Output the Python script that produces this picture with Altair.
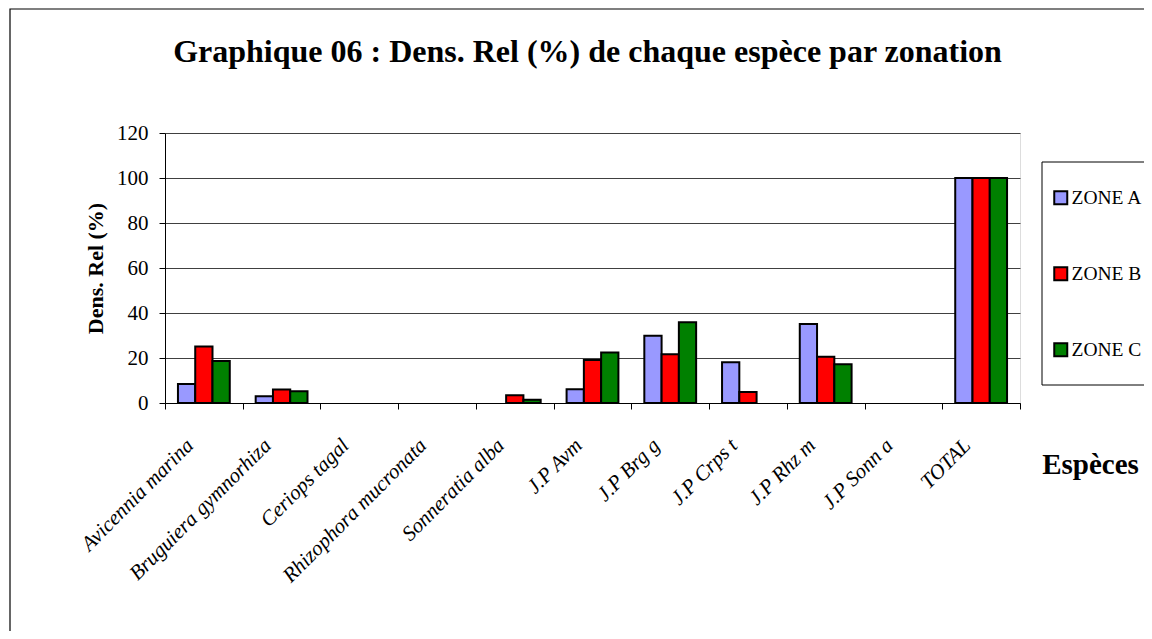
import altair as alt
import pandas as pd

species = ["Avicennia marina", "Bruguiera gymnorhiza", "Ceriops tagal",
           "Rhizophora mucronata", "Sonneratia alba", "J.P Avm", "J.P Brg g",
           "J.P Crps t", "J.P Rhz m", "J.P Sonn a", "TOTAL"]
zones = ["ZONE A", "ZONE B", "ZONE C"]
zone_a = [8.4, 3.0, 0, 0, 0, 6.1, 29.9, 18.1, 35.1, 0, 100]
zone_b = [25.1, 6.0, 0, 0, 3.5, 19.1, 21.7, 4.9, 20.6, 0, 100]
zone_c = [18.7, 5.2, 0, 0, 1.5, 22.4, 35.9, 0, 17.2, 0, 100]
colors = ["#9999FF", "#FF0000", "#008000"]
y_ticks = [0, 20, 40, 60, 80, 100, 120]
title_text = "Graphique 06 : Dens. Rel (%) de chaque espèce par zonation"

rows = []
for z, vals in zip(zones, [zone_a, zone_b, zone_c]):
    for s, v in zip(species, vals):
        rows.append({"species": s, "zone": z, "value": v})
df = pd.DataFrame(rows)

W, H = 855, 270
PL, PT, PR, PB = 157, 125, 124, 228
FONT = "Liberation Serif"

bars = alt.Chart(df).mark_bar(stroke="black", strokeWidth=2).transform_filter(
    "datum.value > 0"
).encode(
    x=alt.X("species:N", sort=species,
            scale=alt.Scale(domain=species, paddingInner=0, paddingOuter=0),
            axis=alt.Axis(title="Espèces", titleX=925, titleY=70,
                          titleAlign="center", titleBaseline="alphabetic",
                          titleFont=FONT, titleFontSize=29, titleFontWeight="bold",
                          titleColor="black",
                          labelAngle=-45, labelAlign="right", labelBaseline="middle",
                          labelFont=FONT, labelFontStyle="italic", labelFontSize=21,
                          labelColor="black", labelOffset=-14, labelPadding=33,
                          labelLimit=400, labelOverlap=False,
                          tickBand="extent", tickSize=6, tickColor="black",
                          domainColor="black", grid=False)),
    xOffset=alt.XOffset("zone:N", sort=zones,
                        scale=alt.Scale(domain=zones, paddingInner=0, paddingOuter=0.75)),
    y=alt.Y("value:Q", scale=alt.Scale(domain=[0, 120], nice=False),
            axis=alt.Axis(values=y_ticks, title="Dens. Rel (%)",
                          titleX=-70, titleY=135, titleAngle=-90,
                          titleAlign="center", titleBaseline="middle",
                          titleFont=FONT, titleFontSize=22, titleFontWeight="bold",
                          titleColor="black",
                          labelFont=FONT, labelFontSize=21, labelColor="black",
                          labelPadding=11, tickSize=6, tickColor="black",
                          domainColor="black", grid=True, gridColor="#404040",
                          gridWidth=1)),
    color=alt.Color("zone:N", sort=zones,
                    scale=alt.Scale(domain=zones, range=colors),
                    legend=alt.Legend(orient="none", legendX=886, legendY=55,
                                      title=None, labelFont=FONT, labelFontSize=19.5,
                                      labelColor="black", symbolType="square",
                                      symbolSize=169, symbolStrokeColor="black",
                                      symbolStrokeWidth=2, symbolOpacity=1,
                                      rowPadding=54, labelOffset=1, padding=0)),
)

frame = alt.Chart(alt.Data(values=[{"k": 1}])).mark_rect(
    fill=None, stroke="black", strokeWidth=1.2
).encode(
    x=alt.value(-PL + 2), x2=alt.value(W + PR + 20),
    y=alt.value(-PT + 1), y2=alt.value(H + PB + 20),
)

legend_box = alt.Chart(alt.Data(values=[{"k": 1}])).mark_rect(
    fill="white", stroke="black", strokeWidth=1
).encode(
    x=alt.value(877), x2=alt.value(W + PR + 20),
    y=alt.value(29), y2=alt.value(252),
)

title = alt.Chart(alt.Data(values=[{"k": 1}])).mark_text(
    font=FONT, fontSize=32, fontWeight="bold", color="black",
    align="center", baseline="alphabetic"
).encode(
    x=alt.value(W / 2 - 5), y=alt.value(-71), text=alt.value(title_text),
)

chart = alt.layer(frame, legend_box, title, bars).properties(
    width=W, height=H,
    autosize=alt.AutoSizeParams(type="none"),
    padding={"left": PL, "top": PT, "right": PR, "bottom": PB},
).configure_view(fill="#C0C0C0", stroke="#808080", strokeWidth=1
).configure(background="white")

chart.save("out.html", embed_options={"renderer": "svg", "actions": False})
